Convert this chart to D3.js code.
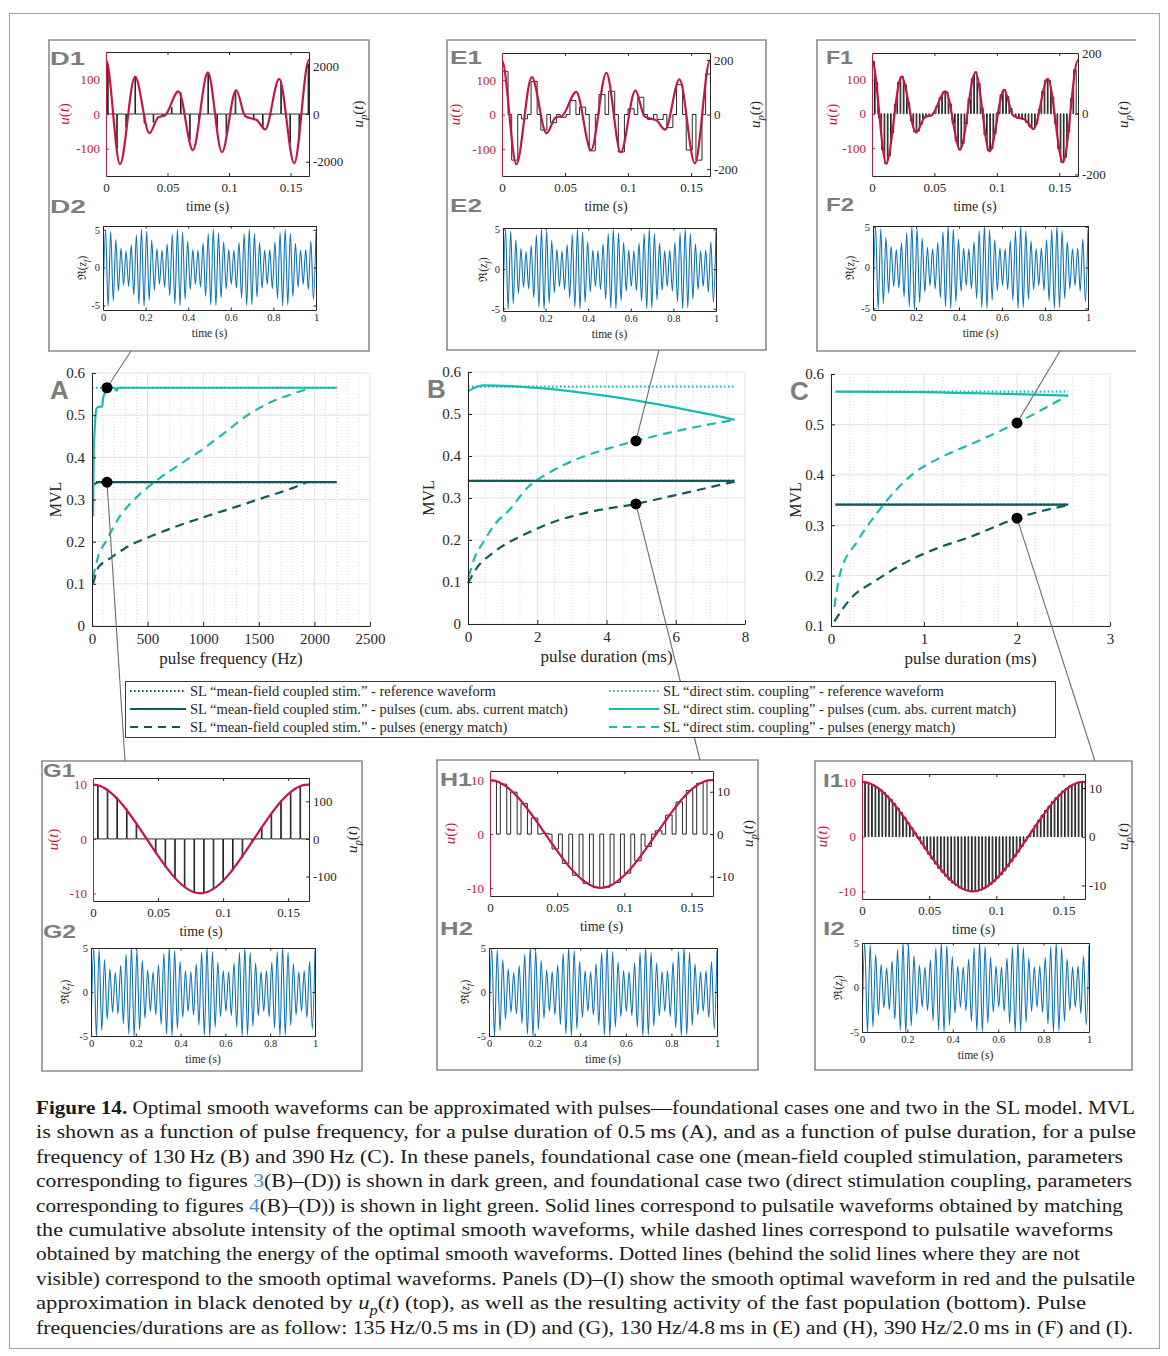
<!DOCTYPE html>
<html>
<head>
<meta charset="utf-8">
<script src="https://cdn.jsdelivr.net/npm/d3@7"></script>
<style>
  body { margin: 0; background: #fff; }
  text { font-family: "Liberation Serif", "DejaVu Serif", serif; }
</style>
</head>
<body>
<script>
// ---------- values ----------

// A: MVL vs pulse frequency (Hz), pulse duration 0.5 ms
const aCyanSolidX = [10, 15, 25, 40, 60, 90, 100, 120, 135, 200, 220, 240, 2200];
const aCyanSolidY = [0.26, 0.40, 0.47, 0.515, 0.52, 0.52, 0.54, 0.555, 0.565, 0.565, 0.558, 0.565, 0.565];
const aDarkSolidX = [10, 30, 60, 2200];
const aDarkSolidY = [0.335, 0.338, 0.341, 0.341];
const aCyanDashX = [10, 50, 135, 250, 400, 580, 800, 1000, 1200, 1400, 1600, 1800, 1970];
const aCyanDashY = [0.115, 0.16, 0.205, 0.26, 0.305, 0.345, 0.385, 0.42, 0.46, 0.50, 0.53, 0.55, 0.565];
const aDarkDashX = [10, 60, 135, 300, 550, 800, 1050, 1300, 1550, 1800, 1930];
const aDarkDashY = [0.1, 0.14, 0.155, 0.185, 0.215, 0.24, 0.262, 0.283, 0.305, 0.327, 0.341];
const aRefX = [0, 2200];

// B: MVL vs pulse duration (ms), 130 Hz
const bCyanSolidX = [0, 0.3, 0.45, 1, 2, 3, 4, 5, 6, 7, 7.7];
const bCyanSolidY = [0.554, 0.566, 0.568, 0.567, 0.562, 0.554, 0.543, 0.53, 0.515, 0.499, 0.486];
const bDarkSolidX = [0, 7.7];
const bDarkSolidY = [0.341, 0.341];
const bCyanDashX = [0.02, 0.2, 0.45, 0.8, 1.2, 1.7, 2.4, 3.1, 4.1, 4.85, 6.0, 7.7];
const bCyanDashY = [0.113, 0.16, 0.196, 0.24, 0.272, 0.323, 0.363, 0.391, 0.419, 0.436, 0.459, 0.486];
const bDarkDashX = [0, 0.25, 0.7, 1.7, 2.65, 3.6, 4.85, 6.0, 7.7];
const bDarkDashY = [0.097, 0.133, 0.168, 0.216, 0.248, 0.268, 0.286, 0.307, 0.339];
const bRefX = [0, 7.7];

// C: MVL vs pulse duration (ms), 390 Hz
const cCyanSolidX = [0.05, 1, 1.5, 2, 2.55];
const cCyanSolidY = [0.565, 0.564, 0.562, 0.56, 0.557];
const cDarkSolidX = [0.05, 2.55];
const cDarkSolidY = [0.341, 0.341];
const cCyanDashX = [0.036, 0.1, 0.28, 0.49, 0.7, 0.89, 1.2, 1.57, 2.0, 2.55];
const cCyanDashY = [0.138, 0.205, 0.267, 0.323, 0.37, 0.403, 0.436, 0.466, 0.503, 0.558];
const cDarkDashX = [0.036, 0.2, 0.49, 0.78, 1.14, 1.5, 2.0, 2.55];
const cDarkDashY = [0.109, 0.152, 0.191, 0.224, 0.254, 0.277, 0.314, 0.34];
const cRefX = [0.05, 2.55];

const refCyan = 0.565, refDark = 0.341;
const markA = 135, markB = 4.85, markC = 2.0;

// smooth optimal waveforms (turning points, one period beyond each end since they are periodic)
const waveT1 = [-0.0114, 0, 0.0114, 0.0236, 0.0353, 0.0425, 0.0478, 0.0589, 0.0706, 0.0828, 0.0942, 0.1058, 0.1130, 0.1175, 0.1225, 0.1294, 0.1408, 0.1530, 0.1650, 0.1764];
const waveU1 = [-145, 157, -145, 109, -55, -9, -4, 66, -104, 121, -110, 70, -5, -12, -17, -44, 102, -142, 157, -145];
const waveT2 = [-0.0825, 0, 0.0825, 0.165, 0.2475];
const waveU2 = [-10, 10, -10, 10, -10];

// pulse amplitudes u_p
const pulsesD = [2100, -1450, -570, 1530, -380, -350, -70, 280, 900, -1080, -250, 1700, -660, -830, 970, -30, -210, -560, -40, 1380, -1200, -1100, 2100];
const pulsesE = [158, -167, -16, 121, -57, -30, -10, 51, 27, -133, 73, 85, -137, 21, 63, -18, -18, -48, 109, -130, -167, 148];
const pulsesF = [172, 103, -14, -119, -165, -138, -62, 32, 104, 123, 95, 36, -24, -59, -57, -34, -14, -8, -6, 3,
  27, 54, 72, 71, 33, -31, -90, -119, -98, -34, 49, 116, 138, 100, 18, -70, -121, -115, -65, 5,
  62, 79, 57, 17, -7, -14, -16, -19, -29, -43, -50, -33, 15, 73, 111, 109, 55, -32, -115, -160,
  -143, -60, 51, 145];
const pulsesG = [143, 132, 110, 80, 43, 3, -37, -75, -106, -129, -142, -144, -134, -114, -85, -49, -9, 31, 69, 102, 126, 141];
const pulsesH = [12.6, 11.8, 9.9, 7.2, 3.8, 0.2, -3.5, -6.9, -9.7, -11.6, -12.6, -12.5, -11.4, -9.2, -6.3, -2.9, 0.8, 4.5, 7.6, 10.3, 12.0, 12.7];
const pulsesI = [11.2, 11.1, 10.9, 10.6, 10.2, 9.7, 9.1, 8.4, 7.7, 6.8, 5.9, 5.0, 4.0, 2.9, 1.9, 0.8, -0.3, -1.4, -2.5, -3.6,
  -4.6, -5.6, -6.5, -7.3, -8.1, -8.9, -9.5, -10.0, -10.5, -10.8, -11.1, -11.2, -11.2, -11.2, -11.0, -10.7, -10.3, -9.8, -9.2, -8.5,
  -7.8, -7.0, -6.1, -5.1, -4.1, -3.1, -2.0, -0.9, 0.1, 1.2, 2.3, 3.4, 4.4, 5.4, 6.3, 7.2, 8.0, 8.7, 9.4, 9.9,
  10.4, 10.8, 11.1, 11.2, 11.2];

// Re(z_f): successive extrema over one second (83 per s)
const fastExt = [-4.7, 5.0, -5.1, 4.8, -4.4, 3.7, -3.1, 2.6, -2.3, 2.2, -2.5, 3.0, -3.6, 4.3,
  -4.8, 5.1, -5.1, 4.8, -4.3, 3.6, -3.0, 2.5, -2.2, 2.3, -2.6, 3.1, -3.7, 4.4,
  -4.8, 5.1, -5.0, 4.7, -4.2, 3.5, -2.9, 2.4, -2.2, 2.3, -2.6, 3.2, -3.8, 4.5,
  -4.9, 5.1, -5.0, 4.6, -4.0, 3.4, -2.8, 2.4, -2.2, 2.3, -2.7, 3.3, -4.0, 4.5,
  -5.0, 5.1, -4.9, 4.5, -3.9, 3.3, -2.7, 2.3, -2.2, 2.4, -2.8, 3.4, -4.1, 4.6,
  -5.0, 5.1, -4.9, 4.5, -3.8, 3.2, -2.6, 2.3, -2.2, 2.4, -2.9, 3.5, -4.2, 4.7];
const fastRate = 83;

const legendLeft = ["SL \u201cmean-field coupled stim.\u201d - reference waveform",
  "SL \u201cmean-field coupled stim.\u201d - pulses (cum. abs. current match)",
  "SL \u201cmean-field coupled stim.\u201d - pulses (energy match)"];
const legendRight = ["SL \u201cdirect stim. coupling\u201d - reference waveform",
  "SL \u201cdirect stim. coupling\u201d - pulses (cum. abs. current match)",
  "SL \u201cdirect stim. coupling\u201d - pulses (energy match)"];

// ---------- drawing ----------
const RED = "#c3173f", BLUE = "#0a72bd", DARK = "#0e5c5a", CYAN = "#19bab4";
const INK = "#262626", BOXGRAY = "#8c8c8c", LBLGRAY = "#7d7d7d";

const svg = d3.select("body").append("svg").attr("width", 1168).attr("height", 1356);
svg.append("rect").attr("x", 9.5).attr("y", 13.5).attr("width", 1150).attr("height", 1335)
  .attr("fill", "none").attr("stroke", "#a3a3a3");

const fmt = d => String(d);

function styleAxis(g, size, color) {
  g.attr("font-family", null).attr("font-size", size);
  g.select(".domain").attr("stroke", color);
  g.selectAll(".tick line").attr("stroke", color);
  g.selectAll(".tick text").attr("fill", color);
  return g;
}

// text made of pieces: [string, "it sub bold link"]
function richText(x, y, parts, size, color, anchor, rotate) {
  const t = svg.append("text").attr("font-size", size).attr("fill", color)
    .attr("text-anchor", anchor || "start");
  if (rotate) t.attr("transform", `translate(${x},${y}) rotate(-90)`);
  else t.attr("x", x).attr("y", y);
  let down = false;
  parts.forEach(([s, st]) => {
    const flags = (st || "").split(" ");
    const ts = t.append("tspan").text(s);
    if (flags.includes("it")) ts.attr("font-style", "italic");
    if (flags.includes("bold")) ts.attr("font-weight", "bold");
    if (flags.includes("link")) ts.attr("fill", "#3a8dcc");
    if (flags.includes("sub")) {
      ts.attr("font-size", size * 0.72).attr("dy", size * 0.28);
      down = true;
    } else if (down) {
      ts.attr("dy", -size * 0.28);
      down = false;
    }
  });
  return t;
}

function panelLabel(x, y, s, size, len) {
  const t = svg.append("text").attr("x", x).attr("y", y).text(s)
    .attr("font-size", size).attr("font-weight", "bold").attr("fill", LBLGRAY)
    .style("font-family", "'Liberation Sans', Arial, sans-serif");
  if (len) t.attr("textLength", len).attr("lengthAdjust", "spacingAndGlyphs");
}

function clip(id, r) {
  svg.append("clipPath").attr("id", id).append("rect")
    .attr("x", r[0]).attr("y", r[1]).attr("width", r[2]).attr("height", r[3]);
  return `url(#${id})`;
}

// ---------- waveform panels D-I ----------
const wavePanels = [
  { name: "D", box: [49, 40, 320, 311], p1: [106, 52, 203, 124], p2: [103, 226, 213, 84],
    xDom: [0, 0.165], yL: [-179, 180], yLt: [-100, 0, 100], yR: [-2600, 2600], yRt: [-2000, 0, 2000],
    waveT: waveT1, waveU: waveU1, pulses: pulsesD, freq: 135, dur: 0.0005, start: 0.0013,
    yB: [-5.6, 5.5], l1: [50, 65, 35], l2: [50, 213, 36], uX: 64, upX: 358, reX: 82 },
  { name: "E", box: [447, 40, 319, 310], p1: [502, 53, 208, 123], p2: [503, 228, 213, 83],
    xDom: [0, 0.165], yL: [-179, 179], yLt: [-100, 0, 100], yR: [-225, 225], yRt: [-200, 0, 200],
    waveT: waveT1, waveU: waveU1, pulses: pulsesE, freq: 130, dur: 0.0048, start: 0,
    yB: [-5.3, 5.2], l1: [450, 64, 32], l2: [450, 212, 32], uX: 455, upX: 755, reX: 483 },
  { name: "F", box: [817, 40, 319, 311], open: true, p1: [872, 53, 206, 123], p2: [873, 226, 215, 84],
    xDom: [0, 0.165], yL: [-182, 178], yLt: [-100, 0, 100], yR: [-205, 200], yRt: [-200, 0, 200],
    waveT: waveT1, waveU: waveU1, pulses: pulsesF, freq: 390, dur: 0.002, start: 0,
    yB: [-5.2, 5.1], l1: [826, 64, 27], l2: [826, 211, 28], uX: 832, upX: 1123, reX: 850 },
  { name: "G", box: [42, 761, 320, 310], p1: [93, 778, 216, 123], p2: [91, 948, 224, 88],
    xDom: [0, 0.166], yL: [-11.4, 11.2], yLt: [-10, 0, 10], yR: [-165, 162], yRt: [-100, 0, 100],
    waveT: waveT2, waveU: waveU2, pulses: pulsesG, freq: 135, dur: 0.0005, start: 0.0035,
    yB: [-5, 5], l1: [43, 777, 32], l2: [43, 938, 33], uX: 53, upX: 352, reX: 65 },
  { name: "H", box: [437, 760, 321, 310], p1: [490, 771, 223, 125], p2: [489, 948, 228, 88],
    xDom: [0, 0.166], yL: [-11.5, 11.7], yLt: [-10, 0, 10], yR: [-14.6, 14.9], yRt: [-10, 0, 10],
    waveT: waveT2, waveU: waveU2, pulses: pulsesH, freq: 130, dur: 0.0048, start: 0,
    yB: [-5, 5], l1: [440, 786, 32], l2: [440, 935, 33], uX: 450, upX: 748, reX: 465 },
  { name: "I", box: [815, 761, 317, 309], p1: [862, 774, 223, 125], p2: [862, 943, 227, 89],
    xDom: [0, 0.166], yL: [-11.4, 11.45], yLt: [-10, 0, 10], yR: [-12.8, 12.9], yRt: [-10, 0, 10],
    waveT: waveT2, waveU: waveU2, pulses: pulsesI, freq: 390, dur: 0.002, start: 0,
    yB: [-5, 5], l1: [823, 787, 20], l2: [823, 935, 22], uX: 822, upX: 1123, reX: 838 }
];

function drawBox(p) {
  const [bx, by, bw, bh] = p.box;
  const d = p.open
    ? `M${bx + bw},${by} L${bx},${by} L${bx},${by + bh} L${bx + bw},${by + bh}`
    : `M${bx},${by} h${bw} v${bh} h${-bw} Z`;
  svg.append("path").attr("d", d).attr("fill", "#fff").attr("stroke", BOXGRAY).attr("stroke-width", 1.6);
}

function drawWavePanel(p) {
  const [px, py, pw, ph] = p.p1;
  const x = d3.scaleLinear().domain(p.xDom).range([px, px + pw]);
  const yL = d3.scaleLinear().domain(p.yL).range([py + ph, py]);
  const yR = d3.scaleLinear().domain(p.yR).range([py + ph, py]);
  const cp = clip("clip" + p.name + "1", p.p1);

  // pulse train
  const pts = [[0, 0]];
  p.pulses.forEach((a, k) => {
    const s = p.start + k / p.freq;
    pts.push([s, 0], [s, a], [s + p.dur, a], [s + p.dur, 0]);
  });
  pts.push([p.xDom[1], 0]);
  svg.append("path").datum(pts).attr("clip-path", cp)
    .attr("fill", "none").attr("stroke", "#111").attr("stroke-width", 0.9)
    .attr("d", d3.line().x(d => x(d[0])).y(d => yR(d[1])));

  // smooth waveform
  svg.append("path").datum(d3.zip(p.waveT, p.waveU)).attr("clip-path", cp)
    .attr("fill", "none").attr("stroke", RED).attr("stroke-width", 2.2)
    .attr("d", d3.line().curve(d3.curveMonotoneX).x(d => x(d[0])).y(d => yL(d[1])));

  // axes
  styleAxis(svg.append("g").attr("transform", `translate(0,${py + ph})`)
    .call(d3.axisBottom(x).tickValues([0, 0.05, 0.1, 0.15]).tickSize(-3).tickSizeOuter(0).tickPadding(7).tickFormat(fmt)), 13, INK);
  styleAxis(svg.append("g").attr("transform", `translate(0,${py})`)
    .call(d3.axisTop(x).tickValues([0.05, 0.1, 0.15]).tickSize(-3).tickSizeOuter(0).tickFormat(() => "")), 13, INK);
  styleAxis(svg.append("g").attr("transform", `translate(${px + pw},0)`)
    .call(d3.axisRight(yR).tickValues(p.yRt).tickSize(-3).tickSizeOuter(0).tickPadding(4).tickFormat(fmt)), 13, INK);
  styleAxis(svg.append("g").attr("transform", `translate(${px},0)`)
    .call(d3.axisLeft(yL).tickValues(p.yLt).tickSize(-3).tickSizeOuter(0).tickPadding(6).tickFormat(fmt)), 13, RED);

  richText(px + pw / 2, py + ph + 35, [["time (s)"]], 14, INK, "middle");
  richText(p.uX + 5, py + ph / 2, [["u", "it"], ["("], ["t", "it"], [")"]], 15, RED, "middle", true);
  richText(p.upX + 5, py + ph / 2, [["u", "it"], ["p", "it sub"], ["("], ["t", "it"], [")"]], 15, INK, "middle", true);

  // fast population
  const [qx, qy, qw, qh] = p.p2;
  const xb = d3.scaleLinear().domain([0, 1]).range([qx, qx + qw]);
  const yb = d3.scaleLinear().domain(p.yB).range([qy + qh, qy]);
  const cp2 = clip("clip" + p.name + "2", p.p2);
  svg.append("path").datum(fastExt.map((v, i) => [i / fastRate, v])).attr("clip-path", cp2)
    .attr("fill", "none").attr("stroke", BLUE).attr("stroke-width", 1.1)
    .attr("d", d3.line().curve(d3.curveMonotoneX).x(d => xb(d[0])).y(d => yb(d[1])));
  const xt = [0, 0.2, 0.4, 0.6, 0.8, 1];
  styleAxis(svg.append("g").attr("transform", `translate(0,${qy + qh})`)
    .call(d3.axisBottom(xb).tickValues(xt).tickSize(-2.5).tickSizeOuter(0).tickPadding(4).tickFormat(fmt)), 10.5, INK);
  styleAxis(svg.append("g").attr("transform", `translate(0,${qy})`)
    .call(d3.axisTop(xb).tickValues(xt).tickSize(-2.5).tickSizeOuter(0).tickFormat(() => "")), 10.5, INK);
  styleAxis(svg.append("g").attr("transform", `translate(${qx},0)`)
    .call(d3.axisLeft(yb).tickValues([-5, 0, 5]).tickSize(-2.5).tickSizeOuter(0).tickPadding(3).tickFormat(fmt)), 10.5, INK);
  styleAxis(svg.append("g").attr("transform", `translate(${qx + qw},0)`)
    .call(d3.axisRight(yb).tickValues([-5, 0, 5]).tickSize(-2.5).tickSizeOuter(0).tickFormat(() => "")), 10.5, INK);
  richText(qx + qw / 2, qy + qh + 27, [["time (s)"]], 11.5, INK, "middle");
  richText(p.reX + 4, qy + qh / 2, [["\u211c"], ["("], ["z", "it"], ["f", "it sub"], [")"]], 11.5, INK, "middle", true);

  panelLabel(p.l1[0], p.l1[1], p.name + "1", 19, p.l1[2]);
  panelLabel(p.l2[0], p.l2[1], p.name + "2", 19, p.l2[2]);
}

wavePanels.forEach(drawBox);

// ---------- MVL panels A-C ----------
const mainPlots = [
  { name: "A", r: [92, 373, 278, 253], xDom: [0, 2500], xt: [0, 500, 1000, 1500, 2000, 2500], minor: 100,
    yDom: [0, 0.6], yt: [0, 0.1, 0.2, 0.3, 0.4, 0.5, 0.6], xlab: "pulse frequency (Hz)", lbl: [50, 399], mvlX: 55,
    refX: aRefX, cs: [aCyanSolidX, aCyanSolidY], ds: [aDarkSolidX, aDarkSolidY],
    cd: [aCyanDashX, aCyanDashY], dd: [aDarkDashX, aDarkDashY], mark: markA, markOn: "solid",
    linkUp: [131, 351], linkDown: [125, 761] },
  { name: "B", r: [468, 372, 277, 252], xDom: [0, 8], xt: [0, 2, 4, 6, 8], minor: 0.5,
    yDom: [0, 0.6], yt: [0, 0.1, 0.2, 0.3, 0.4, 0.5, 0.6], xlab: "pulse duration (ms)", lbl: [427, 398], mvlX: 428,
    refX: bRefX, cs: [bCyanSolidX, bCyanSolidY], ds: [bDarkSolidX, bDarkSolidY],
    cd: [bCyanDashX, bCyanDashY], dd: [bDarkDashX, bDarkDashY], mark: markB, markOn: "dash",
    linkUp: [659, 350], linkDown: [700, 760] },
  { name: "C", r: [831, 374, 279, 252], xDom: [0, 3], xt: [0, 1, 2, 3], minor: 0.2,
    yDom: [0.1, 0.6], yt: [0.1, 0.2, 0.3, 0.4, 0.5, 0.6], xlab: "pulse duration (ms)", lbl: [790, 400], mvlX: 795,
    refX: cRefX, cs: [cCyanSolidX, cCyanSolidY], ds: [cDarkSolidX, cDarkSolidY],
    cd: [cCyanDashX, cCyanDashY], dd: [cDarkDashX, cDarkDashY], mark: markC, markOn: "dash",
    linkUp: [1060, 351], linkDown: [1095, 761] }
];

const styles = {
  dot: { w: 2.2, dash: "1.6,2.4" },
  solid: { w: 2.2, dash: null },
  dash: { w: 2.2, dash: "9,6" }
};

function drawMain(p) {
  const [px, py, pw, ph] = p.r;
  const x = d3.scaleLinear().domain(p.xDom).range([px, px + pw]);
  const y = d3.scaleLinear().domain(p.yDom).range([py + ph, py]);
  const g = svg.append("g");

  // grid
  d3.range(p.xDom[0], p.xDom[1] + 1e-9, p.minor).forEach(v => {
    const major = p.xt.some(t => Math.abs(t - v) < 1e-9);
    g.append("line").attr("x1", x(v)).attr("x2", x(v)).attr("y1", py).attr("y2", py + ph)
      .attr("stroke", major ? "#e2e2e2" : "#d9d9d9").attr("stroke-width", 1)
      .attr("stroke-dasharray", major ? null : "1,2");
  });
  p.yt.forEach(v => {
    g.append("line").attr("x1", px).attr("x2", px + pw).attr("y1", y(v)).attr("y2", y(v))
      .attr("stroke", "#e2e2e2").attr("stroke-width", 1);
  });

  const line = d3.line().curve(d3.curveMonotoneX).x(d => x(d[0])).y(d => y(d[1]));
  const series = [
    [p.refX, [refDark, refDark], DARK, "dot"],
    [p.refX, [refCyan, refCyan], CYAN, "dot"],
    [p.cd[0], p.cd[1], CYAN, "dash"],
    [p.dd[0], p.dd[1], DARK, "dash"],
    [p.ds[0], p.ds[1], DARK, "solid"],
    [p.cs[0], p.cs[1], CYAN, "solid"]
  ];
  series.forEach(([xs, ys, col, st]) => {
    g.append("path").datum(d3.zip(xs, ys)).attr("d", line)
      .attr("fill", "none").attr("stroke", col).attr("stroke-width", styles[st].w)
      .attr("stroke-dasharray", styles[st].dash);
  });

  // axes
  styleAxis(svg.append("g").attr("transform", `translate(0,${py + ph})`)
    .call(d3.axisBottom(x).tickValues(p.xt).tickSize(-4).tickSizeOuter(0).tickPadding(7).tickFormat(fmt)), 15, INK);
  styleAxis(svg.append("g").attr("transform", `translate(${px},0)`)
    .call(d3.axisLeft(y).tickValues(p.yt).tickSize(-4).tickSizeOuter(0).tickPadding(7).tickFormat(fmt)), 15, INK);

  richText(px + pw / 2, py + ph + 38, [[p.xlab]], 17, INK, "middle");
  richText(p.mvlX + 6, py + ph / 2, [["MVL"]], 16, INK, "middle", true);
  panelLabel(p.lbl[0], p.lbl[1], p.name, 26);

  // marked points and links to the waveform panels
  let yUp, yDown;
  if (p.markOn === "solid") {
    yUp = refCyan; yDown = refDark;
  } else {
    const iu = p.cd[0].indexOf(p.mark), id = p.dd[0].indexOf(p.mark);
    yUp = p.cd[1][iu]; yDown = p.dd[1][id];
  }
  const up = [x(p.mark), y(yUp)], dn = [x(p.mark), y(yDown)];
  return { up, dn, linkUp: p.linkUp, linkDown: p.linkDown };
}

const marks = mainPlots.map(drawMain);

// connector lines, then legend over them
marks.forEach(m => {
  [[m.up, m.linkUp], [m.dn, m.linkDown]].forEach(([a, b]) => {
    svg.append("line").attr("x1", a[0]).attr("y1", a[1]).attr("x2", b[0]).attr("y2", b[1])
      .attr("stroke", "#6e6e6e").attr("stroke-width", 1.1);
  });
});
marks.forEach(m => {
  [m.up, m.dn].forEach(a => svg.append("circle").attr("cx", a[0]).attr("cy", a[1]).attr("r", 5.5).attr("fill", "#000"));
});

wavePanels.forEach(drawWavePanel);

// legend
const lg = svg.append("g");
lg.append("rect").attr("x", 125.5).attr("y", 681.5).attr("width", 930).attr("height", 56)
  .attr("fill", "#fff").attr("stroke", "#3a3a3a").attr("stroke-width", 1);
const legStyles = ["dot", "solid", "dash"];
[[legendLeft, DARK, 130, 186, 190], [legendRight, CYAN, 609, 659, 663]].forEach(([labels, col, x1, x2, tx]) => {
  labels.forEach((s, i) => {
    const yy = 691 + i * 18;
    const st = styles[legStyles[i]];
    lg.append("line").attr("x1", x1).attr("x2", x2).attr("y1", yy).attr("y2", yy)
      .attr("stroke", col).attr("stroke-width", st.w).attr("stroke-dasharray", st.dash === "9,6" ? "8,6" : st.dash);
    lg.append("text").attr("x", tx).attr("y", yy + 4.5).attr("font-size", 14.5).attr("fill", INK).text(s);
  });
});

// caption
const captionLines = [
  [["Figure 14.", "bold"], [" Optimal smooth waveforms can be approximated with pulses\u2014foundational cases one and two in the SL model. MVL"]],
  [["is shown as a function of pulse frequency, for a pulse duration of 0.5\u2009ms (A), and as a function of pulse duration, for a pulse"]],
  [["frequency of 130\u2009Hz (B) and 390\u2009Hz (C). In these panels, foundational case one (mean-field coupled stimulation, parameters"]],
  [["corresponding to figures "], ["3", "link"], ["(B)\u2013(D)) is shown in dark green, and foundational case two (direct stimulation coupling, parameters"]],
  [["corresponding to figures "], ["4", "link"], ["(B)\u2013(D)) is shown in light green. Solid lines correspond to pulsatile waveforms obtained by matching"]],
  [["the cumulative absolute intensity of the optimal smooth waveforms, while dashed lines correspond to pulsatile waveforms"]],
  [["obtained by matching the energy of the optimal smooth waveforms. Dotted lines (behind the solid lines where they are not"]],
  [["visible) correspond to the smooth optimal waveforms. Panels (D)\u2013(I) show the smooth optimal waveform in red and the pulsatile"]],
  [["approximation in black denoted by "], ["u", "it"], ["p", "it sub"], ["("], ["t", "it"], [") (top), as well as the resulting activity of the fast population (bottom). Pulse"]],
  [["frequencies/durations are as follow: 135\u2009Hz/0.5\u2009ms in (D) and (G), 130\u2009Hz/4.8\u2009ms in (E) and (H), 390\u2009Hz/2.0\u2009ms in (F) and (I)."]]
];
const captionEnds = [1135, 1136, 1123, 1132, 1123, 1113, 1080, 1135, 1086, 1133];
captionLines.forEach((parts, i) => {
  const t = richText(36, 1114 + i * 24.4, parts, 19, "#1a1a1a", "start");
  t.attr("textLength", captionEnds[i] - 36).attr("lengthAdjust", "spacingAndGlyphs");
});
</script>
</body>
</html>
